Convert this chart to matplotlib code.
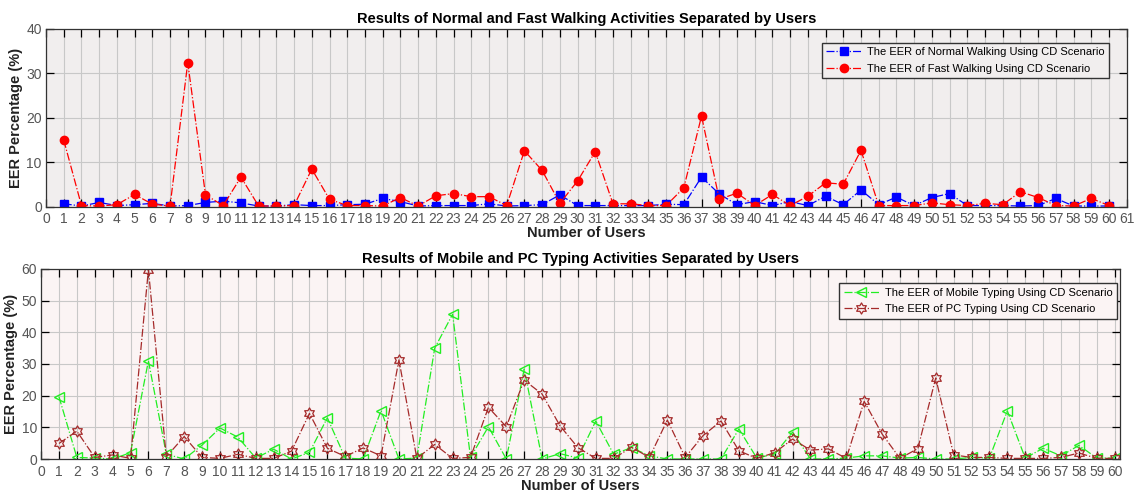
import numpy as np
import matplotlib.pyplot as plt
from matplotlib.path import Path

# user ids 1..60
users = np.arange(1, 61)

# EER (%) walking
normal_walk = [0.7, 0.2, 1.0, 0.3, 0.5, 0.8, 0.2, 0.3, 1.0, 1.3,
               0.9, 0.2, 0.2, 0.5, 0.3, 0.3, 0.5, 0.6, 1.9, 1.2,
               0.2, 0.3, 0.3, 0.3, 0.7, 0.2, 0.3, 0.5, 2.7, 0.3,
               0.3, 0.3, 0.3, 0.3, 0.6, 0.5, 6.7, 2.9, 0.5, 1.2,
               0.3, 1.2, 0.3, 2.4, 0.5, 3.8, 0.5, 2.2, 0.3, 2.1,
               3.0, 0.3, 0.3, 0.3, 0.2, 0.3, 1.9, 0.2, 0.2, 0.2]
fast_walk = [15.0, 0.3, 0.2, 0.5, 2.8, 0.6, 0.2, 32.4, 2.7, 0.3,
             6.7, 0.2, 0.2, 0.3, 8.5, 1.7, 0.3, 0.3, 0.2, 2.1,
             0.2, 2.5, 3.0, 2.3, 2.3, 0.3, 12.6, 8.2, 0.8, 5.8,
             12.4, 0.7, 0.7, 0.3, 0.3, 4.3, 20.4, 1.7, 3.1, 0.3,
             2.8, 0.3, 2.4, 5.4, 5.1, 12.7, 0.3, 0.3, 0.3, 0.9,
             0.5, 0.3, 0.8, 0.5, 3.4, 2.1, 0.3, 0.2, 1.9, 0.3]

# EER (%) typing
mobile_typing = [19.7, 0.5, 0.3, 0.0, 2.0, 31.0, 1.5, 0.0, 4.4, 9.8,
                 6.9, 0.3, 3.1, 0.0, 2.1, 13.0, 0.3, 0.0, 15.3, 0.0,
                 0.3, 35.0, 45.7, 0.5, 10.2, 0.0, 28.4, 0.0, 1.7, 0.3,
                 12.0, 1.5, 3.6, 1.0, 0.0, 0.0, 0.0, 0.0, 9.5, 0.3,
                 1.6, 8.5, 0.0, 0.0, 0.3, 1.0, 1.0, 0.3, 0.5, 0.0,
                 0.0, 0.5, 0.3, 15.2, 0.3, 3.4, 1.0, 4.3, 0.3, 0.3]
pc_typing = [4.9, 8.8, 0.5, 1.3, 0.2, 59.8, 0.7, 7.1, 0.5, 0.2,
             1.5, 0.2, 0.2, 2.5, 14.4, 3.4, 0.8, 3.5, 1.0, 31.3,
             0.2, 4.6, 0.2, 0.5, 16.3, 10.2, 24.9, 20.5, 10.5, 3.6,
             0.2, 0.2, 3.7, 0.5, 12.3, 0.5, 7.4, 12.0, 2.6, 0.2,
             2.0, 6.3, 2.8, 3.2, 0.2, 18.2, 7.9, 0.2, 3.3, 25.6,
             1.3, 0.5, 0.5, 0.2, 0.2, 0.2, 0.5, 1.9, 0.2, 0.2]

plt.rcParams['font.family'] = ['Liberation Sans', 'DejaVu Sans']

# six-pointed star like matlab's 'hexagram'
ang = np.pi / 2 + np.arange(12) * np.pi / 6
rad = np.where(np.arange(12) % 2 == 0, 1.0, 0.58)
pts = np.column_stack([rad * np.cos(ang), rad * np.sin(ang)])
hexagram = Path(np.vstack([pts, pts[:1]]),
                [Path.MOVETO] + [Path.LINETO] * 11 + [Path.CLOSEPOLY])

fig = plt.figure(figsize=(11.34, 4.95), dpi=100)
ax1 = fig.add_axes([0.0406, 0.582, 0.953, 0.36])
ax2 = fig.add_axes([0.0362, 0.0727, 0.9515, 0.384])


def style_axes(ax, bg, xmax, xticks, ymax):
    ax.set_facecolor(bg)
    ax.set_xlim(0, xmax)
    ax.set_ylim(0, ymax)
    ax.set_xticks(xticks)
    ax.set_yticks(np.arange(0, ymax + 1, 10))
    ax.grid(True, color='#c8c8c8', linewidth=0.8)
    ax.set_axisbelow(True)
    ax.tick_params(direction='in', top=True, right=True, length=6,
                   width=0.9, labelsize=10, labelcolor='#555555', pad=4)
    ax.tick_params(axis='y', pad=3)
    for s in ax.spines.values():
        s.set_color('#333333')
        s.set_linewidth(0.9)
    ax.set_ylabel('EER Percentage (%)', fontsize=10.5, fontweight='bold',
                  color='#222222', labelpad=2)
    ax.set_xlabel('Number of Users', fontsize=10.5, fontweight='bold',
                  color='#222222', labelpad=0)


leg_kw = dict(fontsize=8, frameon=True, fancybox=False, edgecolor='#333333',
              framealpha=1, borderpad=0.4, labelspacing=0.6, handlelength=3.2,
              handletextpad=0.5, borderaxespad=0)

# walking
ax1.plot(users, normal_walk, color='blue', linestyle='-.', linewidth=0.9,
         marker='s', markersize=6, label='The EER of Normal Walking Using CD Scenario')
ax1.plot(users, fast_walk, color='red', linestyle='-.', linewidth=0.9,
         marker='o', markersize=6, label='The EER of Fast Walking Using CD Scenario')
style_axes(ax1, '#f1eeee', 61, np.arange(0, 62), 40)
ax1.set_title('Results of Normal and Fast Walking Activities Separated by Users',
              fontsize=10.5, fontweight='bold', pad=4)
ax1.legend(loc='upper right', bbox_to_anchor=(0.984, 0.922), facecolor='#f1eeee', **leg_kw)

# typing
ax2.plot(users, mobile_typing, color='#22ee22', linestyle='-.', linewidth=0.9,
         marker='<', markersize=7, markerfacecolor='none', markeredgewidth=1.0,
         label='The EER of Mobile Typing Using CD Scenario')
ax2.plot(users, pc_typing, color='#a52a2a', linestyle='-.', linewidth=0.9,
         marker=hexagram, markersize=8, markerfacecolor='none', markeredgewidth=0.9,
         label='The EER of PC Typing Using CD Scenario')
style_axes(ax2, '#fbf4f4', 60.3, np.arange(0, 61), 60)
ax2.set_title('Results of Mobile and PC Typing Activities Separated by Users',
              fontsize=10.5, fontweight='bold', pad=4)
ax2.legend(loc='upper right', bbox_to_anchor=(0.997, 0.925), facecolor='#fbf4f4', **leg_kw)

fig.savefig('out.png', dpi=100)
